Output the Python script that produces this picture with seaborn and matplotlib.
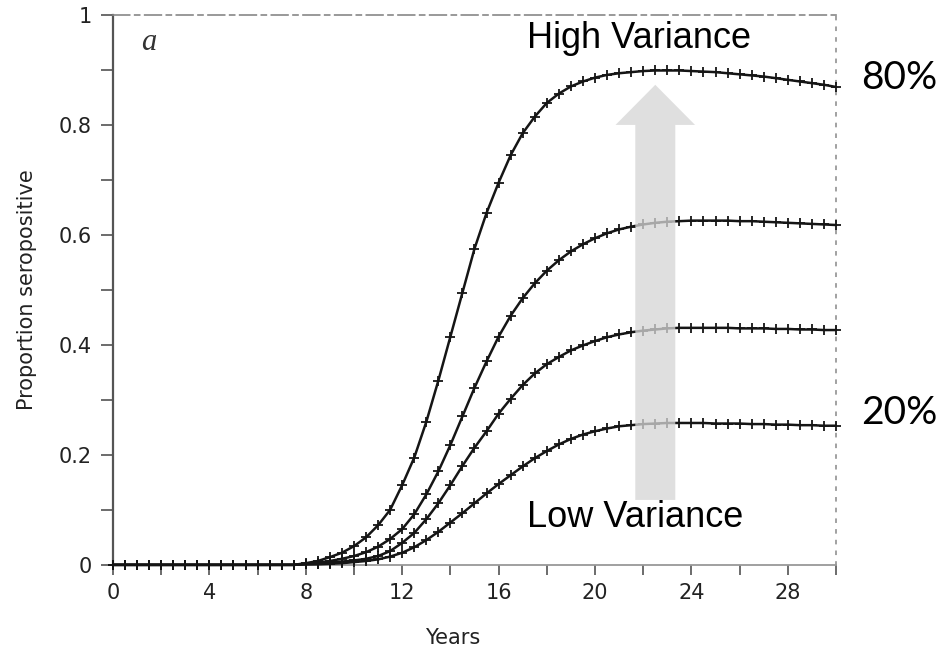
import numpy as np
import pandas as pd
import matplotlib
matplotlib.use('Agg')
import matplotlib.pyplot as plt
from matplotlib.patches import FancyArrow
from matplotlib.ticker import MultipleLocator
import seaborn as sns

# years sampled every half year
years = [i * 0.5 for i in range(61)]

zeros = [0.0] * 16  # 0 .. 7.5 years, nothing yet

# 80% curve (highest variance)
prop_80 = zeros + [
    0.003, 0.007, 0.014, 0.022, 0.034, 0.050, 0.072, 0.100, 0.145, 0.195,
    0.260, 0.335, 0.415, 0.495, 0.575, 0.640, 0.695, 0.745, 0.785, 0.815,
    0.840, 0.857, 0.870, 0.879, 0.886, 0.891, 0.894, 0.896, 0.898, 0.899,
    0.899, 0.899, 0.898, 0.897, 0.896, 0.894, 0.892, 0.890, 0.888, 0.885,
    0.882, 0.879, 0.876, 0.873, 0.869]

prop_60 = zeros + [
    0.002, 0.004, 0.007, 0.011, 0.016, 0.023, 0.033, 0.047, 0.065, 0.092,
    0.128, 0.170, 0.218, 0.270, 0.322, 0.370, 0.415, 0.453, 0.485, 0.512,
    0.535, 0.554, 0.570, 0.583, 0.594, 0.603, 0.610, 0.615, 0.619, 0.622,
    0.624, 0.625, 0.626, 0.626, 0.626, 0.626, 0.625, 0.625, 0.624, 0.623,
    0.622, 0.621, 0.620, 0.619, 0.618]

prop_40 = zeros + [
    0.001, 0.002, 0.004, 0.006, 0.008, 0.011, 0.016, 0.025, 0.040, 0.058,
    0.083, 0.112, 0.145, 0.180, 0.213, 0.243, 0.275, 0.302, 0.327, 0.348,
    0.365, 0.378, 0.390, 0.399, 0.407, 0.414, 0.419, 0.423, 0.426, 0.428,
    0.430, 0.431, 0.431, 0.431, 0.431, 0.431, 0.430, 0.430, 0.430, 0.429,
    0.429, 0.428, 0.428, 0.427, 0.427]

# 20% curve (lowest variance)
prop_20 = zeros + [
    0.001, 0.001, 0.002, 0.003, 0.005, 0.007, 0.010, 0.015, 0.022, 0.032,
    0.045, 0.060, 0.077, 0.094, 0.112, 0.130, 0.147, 0.163, 0.179, 0.194,
    0.207, 0.219, 0.229, 0.237, 0.243, 0.248, 0.252, 0.254, 0.256, 0.257,
    0.258, 0.258, 0.258, 0.258, 0.257, 0.257, 0.257, 0.256, 0.256, 0.255,
    0.255, 0.254, 0.254, 0.253, 0.253]

series = {'80%': prop_80, '60%': prop_60, '40%': prop_40, '20%': prop_20}

yticks = [0, 0.2, 0.4, 0.6, 0.8, 1]
ytick_labels = ['0', '0.2', '0.4', '0.6', '0.8', '1']
xticks = [0, 4, 8, 12, 16, 20, 24, 28]

df = pd.concat([pd.DataFrame({'Years': years, 'prop': v, 'curve': k})
                for k, v in series.items()], ignore_index=True)

sns.set_style('ticks')
plt.rcParams['font.family'] = ['DejaVu Sans']

fig = plt.figure(figsize=(9.49, 6.5), dpi=100)
ax = fig.add_axes([0.119, 0.131, 0.762, 0.846])

for name in series:
    sub = df[df['curve'] == name]
    sns.lineplot(data=sub, x='Years', y='prop', ax=ax, color='#151515',
                 linewidth=1.8, marker='+', markersize=6.5, markeredgewidth=1.3,
                 markeredgecolor='#151515', clip_on=False, zorder=3)

ax.set_xlim(0, 30)
ax.set_ylim(0, 1)
ax.set_xticks(xticks)
ax.set_xticklabels([str(t) for t in xticks])
ax.xaxis.set_minor_locator(MultipleLocator(2))
ax.set_yticks(yticks)
ax.set_yticklabels(ytick_labels)
ax.yaxis.set_minor_locator(MultipleLocator(0.1))

ax.tick_params(axis='both', which='both', direction='out', colors='#444444',
               labelcolor='#222222', labelsize=15, width=1.1)
ax.tick_params(axis='y', which='both', length=9, pad=6)
ax.tick_params(axis='x', which='both', length=7, pad=6)

ax.set_xlabel('Years', fontsize=15, color='#222222')
ax.set_ylabel('Proportion seropositive', fontsize=15, color='#222222')
ax.xaxis.set_label_coords(0.47, -0.115)
ax.yaxis.set_label_coords(-0.105, 0.5)

ax.spines['left'].set_color('#555555')
ax.spines['left'].set_linewidth(1.6)
ax.spines['bottom'].set_color('#999999')
ax.spines['bottom'].set_linewidth(1.3)
ax.spines['top'].set_color('#888888')
ax.spines['top'].set_linewidth(1.2)
ax.spines['top'].set_linestyle((0, (10, 3, 3, 3)))
ax.spines['right'].set_color('#888888')
ax.spines['right'].set_linewidth(1.1)
ax.spines['right'].set_linestyle((0, (2, 5)))

ax.text(0.05, 0.95, 'a', transform=ax.transAxes, fontsize=22,
        family='Liberation Serif', style='italic', color='#333333',
        ha='center', va='center')

# grey arrow from low to high variance
arrow = FancyArrow(22.5, 0.118, 0, 0.755, width=1.66, head_width=3.3,
                   head_length=0.073, length_includes_head=True,
                   facecolor='#d6d6d6', edgecolor='none', alpha=0.76, zorder=5)
ax.add_patch(arrow)

fig.text(0.673, 0.9415, 'High Variance', fontsize=26, family='Liberation Sans',
         ha='center', va='center', color='black')
fig.text(0.669, 0.204, 'Low Variance', fontsize=26, family='Liberation Sans',
         ha='center', va='center', color='black')
fig.text(0.948, 0.88, '80%', fontsize=28, family='Lato',
         ha='center', va='center', color='black')
fig.text(0.948, 0.365, '20%', fontsize=28, family='Lato',
         ha='center', va='center', color='black')

fig.savefig('out.png', dpi=100)
